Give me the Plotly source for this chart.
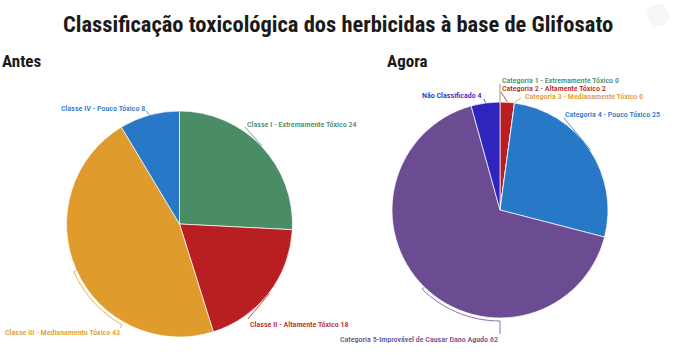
import math
import plotly.graph_objects as go

# ---------------- data ----------------
antes_labels = ["Classe I - Extremamente Tóxico", "Classe II - Altamente Tóxico",
                "Classe III - Medianamento Tóxico", "Classe IV - Pouco Tóxico"]
antes_values = [24, 18, 43, 8]
antes_colors = ["#4a8c66", "#b81e22", "#e09b2d", "#2878c8"]

agora_labels = ["Categoria 1 - Extremamente Tóxico", "Categoria 2 - Altamente Tóxico",
                "Categoria 3 - Medianamente Tóxico", "Categoria 4 - Pouco Tóxico",
                "Categoria 5-Improvável de Causar Dano Agudo", "Não Classificado"]
agora_values = [0, 2, 0, 25, 62, 4]
agora_colors = ["#4a8c66", "#b81e22", "#e09b2d", "#2878c8", "#6b4c92", "#3024bf"]

title_text = "Classificação toxicológica dos herbicidas à base de Glifosato"
sub_titles = ["Antes", "Agora"]

# ---------------- layout / style ----------------
W, H = 676, 357
FONT = "'Roboto Condensed', 'Liberation Sans Narrow', 'DejaVu Sans Condensed', Roboto, sans-serif"

# pie geometry in pixels: (cx, cy, r)
geo_left = (179.5, 224.0, 113.0)
geo_right = (500.0, 210.0, 108.0)

# label placement (px): (x, y, xanchor)
place_left = [(245, 124, "left"), (248, 324, "left"), (122, 332, "right"), (147, 108, "right")]
place_right = [(500, 80, "left"), (500, 88.5, "left"), (523, 97, "left"),
               (563, 114.5, "left"), (500, 339, "right"), (484, 96, "right")]
# connector end points (px) near each label
conn_left = [(245, 127), (248, 319), (120, 328), (146, 111)]
conn_right = [(500, 84), (501, 92), (521, 98), (564, 118), (500, 334), (484, 99)]


def px(x):
    return x / W


def py(y):
    return 1 - y / H


def domain(g):
    cx, cy, r = g
    return dict(x=[px(cx - r), px(cx + r)], y=[py(cy + r), py(cy - r)])


fig = go.Figure()
for vals, labs, cols, g in [(antes_values, antes_labels, antes_colors, geo_left),
                            (agora_values, agora_labels, agora_colors, geo_right)]:
    fig.add_trace(go.Pie(
        values=vals, labels=labs, sort=False, direction="clockwise", rotation=0,
        marker=dict(colors=cols, line=dict(color="rgba(255,255,255,0.7)", width=1)),
        textinfo="none", domain=domain(g), showlegend=False, hole=0,
    ))

shapes = []
annotations = []


def add_labels(vals, labs, cols, g, places, conns):
    cx, cy, r = g
    total = sum(vals)
    cum = 0
    for v, lab, col, (lx, ly, anc), (ex, ey) in zip(vals, labs, cols, places, conns):
        mid = (cum + v / 2) / total * 360
        cum += v
        tgt = math.degrees(math.atan2(ex - cx, -(ey - cy))) % 360
        rr = r + 3
        d = tgt - mid
        if d > 180:
            d -= 360
        if d < -180:
            d += 360
        n = max(2, int(abs(d) / 3) + 1)
        pts = [(cx + (r + 0.5) * math.sin(math.radians(mid)), cy - (r + 0.5) * math.cos(math.radians(mid)))]
        dist = math.hypot(ex - cx, ey - cy)
        if dist > rr + 3 and abs(d) > 4:
            for i in range(n + 1):
                a = math.radians(mid + d * i / n)
                pts.append((cx + rr * math.sin(a), cy - rr * math.cos(a)))
        pts.append((ex, ey))
        path = "M " + " L ".join(f"{px(x):.5f},{py(y):.5f}" for x, y in pts)
        shapes.append(dict(type="path", xref="paper", yref="paper", path=path,
                           line=dict(color=col, width=0.8)))
        annotations.append(dict(text=f"{lab} {v}", x=px(lx), y=py(ly), xref="paper", yref="paper",
                                xanchor=anc, yanchor="middle", showarrow=False,
                                font=dict(family=FONT, size=8, color=col, weight=500)))


add_labels(antes_values, antes_labels, antes_colors, geo_left, place_left, conn_left)
add_labels(agora_values, agora_labels, agora_colors, geo_right, place_right, conn_right)

annotations.append(dict(text=title_text, x=0.5, y=py(24), xref="paper", yref="paper",
                        xanchor="center", yanchor="middle", showarrow=False,
                        font=dict(family=FONT, size=22.5, color="#1a1a1a", weight="bold")))
annotations.append(dict(text=sub_titles[0], x=px(0), y=py(61), xref="paper", yref="paper",
                        xanchor="left", yanchor="middle", showarrow=False,
                        font=dict(family=FONT, size=17, color="#1a1a1a", weight="bold")))
annotations.append(dict(text=sub_titles[1], x=px(385), y=py(61), xref="paper", yref="paper",
                        xanchor="left", yanchor="middle", showarrow=False,
                        font=dict(family=FONT, size=17, color="#1a1a1a", weight="bold")))

# faint export-menu circle top-right
shapes.append(dict(type="circle", xref="paper", yref="paper",
                   x0=px(647), x1=px(669), y0=py(26), y1=py(4),
                   fillcolor="#f6f6f6", line=dict(width=0)))

fig.update_layout(width=W, height=H, margin=dict(l=0, r=0, t=0, b=0),
                  paper_bgcolor="white", plot_bgcolor="white",
                  shapes=shapes, annotations=annotations)

fig.write_html("out.html", config={"displayModeBar": False},
               post_script="document.body.style.margin='0';document.body.style.padding='0';"
                           "document.documentElement.style.overflow='hidden';")
